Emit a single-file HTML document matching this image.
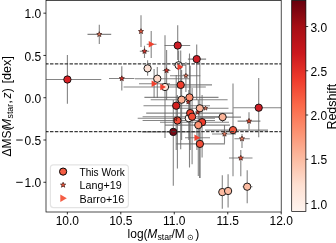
<!DOCTYPE html>
<html><head><meta charset="utf-8"><style>
html,body{margin:0;padding:0;background:#fff;width:336px;height:243px;overflow:hidden}
svg{display:block}
text{font-family:"Liberation Sans", sans-serif;fill:#000}
svg{will-change:transform}
</style></head><body>
<svg width="336" height="243" viewBox="0 0 336 243">
<defs>
<linearGradient id="reds" x1="0" y1="0" x2="0" y2="1">
<stop offset="0" stop-color="#67000d"/>
<stop offset="0.125" stop-color="#a50f15"/>
<stop offset="0.25" stop-color="#cb181d"/>
<stop offset="0.375" stop-color="#ef3b2c"/>
<stop offset="0.5" stop-color="#fb6a4a"/>
<stop offset="0.625" stop-color="#fc9272"/>
<stop offset="0.75" stop-color="#fcbba1"/>
<stop offset="0.875" stop-color="#fee0d2"/>
<stop offset="1" stop-color="#fff5f0"/>
</linearGradient>
<clipPath id="axclip"><rect x="46.0" y="0.4" width="235.2" height="211.6"/></clipPath>
</defs>
<rect width="336" height="243" fill="#fff"/>

<g clip-path="url(#axclip)">
<line x1="46.2" x2="101.3" y1="79.5" y2="79.5" stroke="#666" stroke-opacity="0.8" stroke-width="1.1"/><line x1="67.4" x2="67.4" y1="55" y2="103.8" stroke="#666" stroke-opacity="0.8" stroke-width="1.1"/>
<line x1="164.6" x2="190.2" y1="45.5" y2="45.5" stroke="#666" stroke-opacity="0.8" stroke-width="1.1"/><line x1="177.7" x2="177.7" y1="25.2" y2="60" stroke="#666" stroke-opacity="0.8" stroke-width="1.1"/>
<line x1="187.9" x2="206.1" y1="59.1" y2="59.1" stroke="#666" stroke-opacity="0.8" stroke-width="1.1"/><line x1="196.7" x2="196.7" y1="44.4" y2="100" stroke="#666" stroke-opacity="0.8" stroke-width="1.1"/>
<line x1="147.6" x2="147.6" y1="60.2" y2="75.8" stroke="#666" stroke-opacity="0.8" stroke-width="1.1"/>
<line x1="173.3" x2="186" y1="65.3" y2="65.3" stroke="#666" stroke-opacity="0.8" stroke-width="1.1"/><line x1="178.6" x2="178.6" y1="50.5" y2="82" stroke="#666" stroke-opacity="0.8" stroke-width="1.1"/>
<line x1="135" x2="190" y1="78.7" y2="78.7" stroke="#666" stroke-opacity="0.8" stroke-width="1.1"/><line x1="157.3" x2="157.3" y1="67" y2="98" stroke="#666" stroke-opacity="0.8" stroke-width="1.1"/>
<line x1="123.6" x2="205.8" y1="87.0" y2="87.0" stroke="#666" stroke-opacity="0.8" stroke-width="1.1"/><line x1="165.0" x2="165.0" y1="35.3" y2="138" stroke="#666" stroke-opacity="0.8" stroke-width="1.1"/>
<line x1="165" x2="212" y1="84.9" y2="84.9" stroke="#666" stroke-opacity="0.8" stroke-width="1.1"/><line x1="180.7" x2="180.7" y1="50.5" y2="149.3" stroke="#666" stroke-opacity="0.8" stroke-width="1.1"/>
<line x1="150.7" x2="227.6" y1="99.7" y2="99.7" stroke="#666" stroke-opacity="0.8" stroke-width="1.1"/><line x1="181.6" x2="181.6" y1="70" y2="140" stroke="#666" stroke-opacity="0.8" stroke-width="1.1"/>
<line x1="144.4" x2="218.5" y1="97.4" y2="97.4" stroke="#666" stroke-opacity="0.8" stroke-width="1.1"/><line x1="189.5" x2="189.5" y1="53.4" y2="167.4" stroke="#666" stroke-opacity="0.8" stroke-width="1.1"/>
<line x1="143.5" x2="210" y1="105.7" y2="105.7" stroke="#666" stroke-opacity="0.8" stroke-width="1.1"/><line x1="176.2" x2="176.2" y1="75" y2="150" stroke="#666" stroke-opacity="0.8" stroke-width="1.1"/>
<line x1="175" x2="228.5" y1="108.3" y2="108.3" stroke="#666" stroke-opacity="0.8" stroke-width="1.1"/><line x1="199.8" x2="199.8" y1="61.6" y2="178" stroke="#666" stroke-opacity="0.8" stroke-width="1.1"/>
<line x1="137.7" x2="215" y1="118.2" y2="118.2" stroke="#666" stroke-opacity="0.8" stroke-width="1.1"/><line x1="188.8" x2="188.8" y1="90" y2="140" stroke="#666" stroke-opacity="0.8" stroke-width="1.1"/>
<line x1="146.2" x2="233" y1="113.1" y2="113.1" stroke="#666" stroke-opacity="0.8" stroke-width="1.1"/><line x1="190.2" x2="190.2" y1="65.7" y2="150" stroke="#666" stroke-opacity="0.8" stroke-width="1.1"/>
<line x1="142.6" x2="225" y1="116.7" y2="116.7" stroke="#666" stroke-opacity="0.8" stroke-width="1.1"/><line x1="192.1" x2="192.1" y1="88" y2="164.3" stroke="#666" stroke-opacity="0.8" stroke-width="1.1"/>
<line x1="142.6" x2="215" y1="120.5" y2="120.5" stroke="#666" stroke-opacity="0.8" stroke-width="1.1"/><line x1="177.4" x2="177.4" y1="95" y2="168.4" stroke="#666" stroke-opacity="0.8" stroke-width="1.1"/>
<line x1="160" x2="229" y1="122.2" y2="122.2" stroke="#666" stroke-opacity="0.8" stroke-width="1.1"/><line x1="202.1" x2="202.1" y1="95" y2="157.5" stroke="#666" stroke-opacity="0.8" stroke-width="1.1"/>
<line x1="165" x2="230" y1="125.1" y2="125.1" stroke="#666" stroke-opacity="0.8" stroke-width="1.1"/><line x1="198.3" x2="198.3" y1="100" y2="176" stroke="#666" stroke-opacity="0.8" stroke-width="1.1"/>
<line x1="142" x2="200" y1="131.9" y2="131.9" stroke="#666" stroke-opacity="0.8" stroke-width="1.1"/><line x1="173.3" x2="173.3" y1="100" y2="185.7" stroke="#666" stroke-opacity="0.8" stroke-width="1.1"/>
<line x1="176.3" x2="225" y1="143.9" y2="143.9" stroke="#666" stroke-opacity="0.8" stroke-width="1.1"/><line x1="199.9" x2="199.9" y1="120" y2="178" stroke="#666" stroke-opacity="0.8" stroke-width="1.1"/>
<line x1="200" x2="241" y1="117.1" y2="117.1" stroke="#666" stroke-opacity="0.8" stroke-width="1.1"/><line x1="222.6" x2="222.6" y1="113" y2="122" stroke="#666" stroke-opacity="0.8" stroke-width="1.1"/>
<line x1="205" x2="268" y1="130.1" y2="130.1" stroke="#666" stroke-opacity="0.8" stroke-width="1.1"/><line x1="233.0" x2="233.0" y1="83.5" y2="176.2" stroke="#666" stroke-opacity="0.8" stroke-width="1.1"/>
<line x1="233.3" x2="281" y1="107.7" y2="107.7" stroke="#666" stroke-opacity="0.8" stroke-width="1.1"/><line x1="258.7" x2="258.7" y1="78.1" y2="137.2" stroke="#666" stroke-opacity="0.8" stroke-width="1.1"/>
<line x1="222.3" x2="222.3" y1="175.2" y2="208.8" stroke="#666" stroke-opacity="0.8" stroke-width="1.1"/>
<line x1="228.1" x2="228.1" y1="174.3" y2="207.5" stroke="#666" stroke-opacity="0.8" stroke-width="1.1"/>
<line x1="242.6" x2="252.5" y1="186.7" y2="186.7" stroke="#666" stroke-opacity="0.8" stroke-width="1.1"/><line x1="247.2" x2="247.2" y1="170.2" y2="203.3" stroke="#666" stroke-opacity="0.8" stroke-width="1.1"/>
<line x1="87.5" x2="111.2" y1="34.4" y2="34.4" stroke="#666" stroke-opacity="0.8" stroke-width="1.1"/><line x1="99.3" x2="99.3" y1="24.7" y2="44" stroke="#666" stroke-opacity="0.8" stroke-width="1.1"/>
<line x1="141.0" x2="141.0" y1="15.3" y2="47" stroke="#666" stroke-opacity="0.8" stroke-width="1.1"/>
<line x1="139.8" x2="149.2" y1="51.3" y2="51.3" stroke="#666" stroke-opacity="0.8" stroke-width="1.1"/><line x1="144.5" x2="144.5" y1="45.7" y2="58" stroke="#666" stroke-opacity="0.8" stroke-width="1.1"/>
<line x1="109" x2="134.4" y1="78.5" y2="78.5" stroke="#666" stroke-opacity="0.8" stroke-width="1.1"/><line x1="121.8" x2="121.8" y1="66.3" y2="90.4" stroke="#666" stroke-opacity="0.8" stroke-width="1.1"/>
<line x1="162.6" x2="170.4" y1="70.5" y2="70.5" stroke="#666" stroke-opacity="0.8" stroke-width="1.1"/><line x1="166.6" x2="166.6" y1="50" y2="100" stroke="#666" stroke-opacity="0.8" stroke-width="1.1"/>
<line x1="170" x2="200.3" y1="75.7" y2="75.7" stroke="#666" stroke-opacity="0.8" stroke-width="1.1"/><line x1="185.9" x2="185.9" y1="62" y2="92" stroke="#666" stroke-opacity="0.8" stroke-width="1.1"/>




<line x1="237.6" x2="260.4" y1="121.1" y2="121.1" stroke="#666" stroke-opacity="0.8" stroke-width="1.1"/><line x1="249.0" x2="249.0" y1="112.2" y2="129.4" stroke="#666" stroke-opacity="0.8" stroke-width="1.1"/>
<line x1="212" x2="236" y1="134.0" y2="134.0" stroke="#666" stroke-opacity="0.8" stroke-width="1.1"/><line x1="224.5" x2="224.5" y1="125" y2="143.6" stroke="#666" stroke-opacity="0.8" stroke-width="1.1"/>
<line x1="234.4" x2="249.8" y1="138.7" y2="138.7" stroke="#666" stroke-opacity="0.8" stroke-width="1.1"/><line x1="242.0" x2="242.0" y1="134" y2="148" stroke="#666" stroke-opacity="0.8" stroke-width="1.1"/>
<line x1="229" x2="252.5" y1="158.0" y2="158.0" stroke="#666" stroke-opacity="0.8" stroke-width="1.1"/><line x1="240.8" x2="240.8" y1="150" y2="176.2" stroke="#666" stroke-opacity="0.8" stroke-width="1.1"/>
<line x1="146.7" x2="156.5" y1="44.2" y2="44.2" stroke="#666" stroke-opacity="0.8" stroke-width="1.1"/><line x1="151.2" x2="151.2" y1="30.9" y2="58" stroke="#666" stroke-opacity="0.8" stroke-width="1.1"/>

<line x1="139" x2="170" y1="83.8" y2="83.8" stroke="#666" stroke-opacity="0.8" stroke-width="1.1"/><line x1="154.1" x2="154.1" y1="69" y2="98" stroke="#666" stroke-opacity="0.8" stroke-width="1.1"/>

<line x1="185" x2="210" y1="137.7" y2="137.7" stroke="#666" stroke-opacity="0.8" stroke-width="1.1"/><line x1="196.9" x2="196.9" y1="125" y2="150" stroke="#666" stroke-opacity="0.8" stroke-width="1.1"/>
<circle cx="67.4" cy="79.5" r="3.65" fill="#d92025" stroke="#111" stroke-width="0.95"/>
<circle cx="177.7" cy="45.5" r="3.65" fill="#cf1d26" stroke="#111" stroke-width="0.95"/>
<circle cx="196.7" cy="59.1" r="3.65" fill="#cf1d26" stroke="#111" stroke-width="0.95"/>
<circle cx="147.6" cy="68.4" r="3.65" fill="#fde2d6" stroke="#111" stroke-width="0.95"/>
<circle cx="178.6" cy="65.3" r="3.65" fill="#fff1ea" stroke="#111" stroke-width="0.95"/>
<circle cx="157.3" cy="78.7" r="3.65" fill="#fdd8c8" stroke="#111" stroke-width="0.95"/>
<circle cx="165.0" cy="87.0" r="3.65" fill="#fee5d9" stroke="#111" stroke-width="0.95"/>
<circle cx="180.7" cy="84.9" r="3.65" fill="#f03b2b" stroke="#111" stroke-width="0.95"/>
<circle cx="181.6" cy="99.7" r="3.65" fill="#fcb093" stroke="#111" stroke-width="0.95"/>
<circle cx="189.5" cy="97.4" r="3.65" fill="#fc8e6f" stroke="#111" stroke-width="0.95"/>
<circle cx="176.2" cy="105.7" r="3.65" fill="#d3201f" stroke="#111" stroke-width="0.95"/>
<circle cx="199.8" cy="108.3" r="3.65" fill="#fcb499" stroke="#111" stroke-width="0.95"/>
<circle cx="188.8" cy="118.2" r="3.65" fill="#fff4ef" stroke="#111" stroke-width="0.95"/>
<circle cx="190.2" cy="113.1" r="3.65" fill="#f0402d" stroke="#111" stroke-width="0.95"/>
<circle cx="192.1" cy="116.7" r="3.65" fill="#f24a33" stroke="#111" stroke-width="0.95"/>
<circle cx="177.4" cy="120.5" r="3.65" fill="#f24d37" stroke="#111" stroke-width="0.95"/>
<circle cx="202.1" cy="122.2" r="3.65" fill="#f03b2b" stroke="#111" stroke-width="0.95"/>
<circle cx="198.3" cy="125.1" r="3.65" fill="#fc9272" stroke="#111" stroke-width="0.95"/>
<circle cx="173.3" cy="131.9" r="3.65" fill="#780612" stroke="#111" stroke-width="0.95"/>
<circle cx="199.9" cy="143.9" r="3.65" fill="#f24d37" stroke="#111" stroke-width="0.95"/>
<circle cx="222.6" cy="117.1" r="3.65" fill="#fcb499" stroke="#111" stroke-width="0.95"/>
<circle cx="233.0" cy="130.1" r="3.65" fill="#f25a40" stroke="#111" stroke-width="0.95"/>
<circle cx="258.7" cy="107.7" r="3.65" fill="#cf1d26" stroke="#111" stroke-width="0.95"/>
<circle cx="222.3" cy="192.1" r="3.65" fill="#fcbba1" stroke="#111" stroke-width="0.95"/>
<circle cx="228.1" cy="191.0" r="3.65" fill="#fcbba1" stroke="#111" stroke-width="0.95"/>
<circle cx="247.2" cy="186.7" r="3.65" fill="#fcbba1" stroke="#111" stroke-width="0.95"/>
<path d="M99.30,31.71 L99.96,33.49 L101.86,33.57 L100.37,34.75 L100.88,36.57 L99.30,35.53 L97.72,36.57 L98.23,34.75 L96.74,33.57 L98.64,33.49Z" fill="#ec8062" stroke="#3a1510" stroke-width="0.7"/>
<path d="M141.00,28.71 L141.66,30.49 L143.56,30.57 L142.07,31.75 L142.58,33.57 L141.00,32.53 L139.42,33.57 L139.93,31.75 L138.44,30.57 L140.34,30.49Z" fill="#f25a40" stroke="#3a1510" stroke-width="0.7"/>
<path d="M144.50,48.61 L145.16,50.39 L147.06,50.47 L145.57,51.65 L146.08,53.47 L144.50,52.43 L142.92,53.47 L143.43,51.65 L141.94,50.47 L143.84,50.39Z" fill="#e0302a" stroke="#3a1510" stroke-width="0.7"/>
<path d="M121.80,75.81 L122.46,77.59 L124.36,77.67 L122.87,78.85 L123.38,80.67 L121.80,79.63 L120.22,80.67 L120.73,78.85 L119.24,77.67 L121.14,77.59Z" fill="#e0302a" stroke="#3a1510" stroke-width="0.7"/>
<path d="M166.60,67.81 L167.26,69.59 L169.16,69.67 L167.67,70.85 L168.18,72.67 L166.60,71.63 L165.02,72.67 L165.53,70.85 L164.04,69.67 L165.94,69.59Z" fill="#e0302a" stroke="#3a1510" stroke-width="0.7"/>
<path d="M185.90,73.35 L186.48,74.90 L188.14,74.97 L186.84,76.01 L187.28,77.60 L185.90,76.69 L184.52,77.60 L184.96,76.01 L183.66,74.97 L185.32,74.90Z" fill="#f4896a" stroke="#3a1510" stroke-width="0.7"/>
<path d="M188.10,99.92 L188.64,101.36 L190.18,101.43 L188.97,102.38 L189.38,103.87 L188.10,103.02 L186.82,103.87 L187.23,102.38 L186.02,101.43 L187.56,101.36Z" fill="#e0302a" stroke="#3a1510" stroke-width="0.7"/>
<path d="M197.70,110.32 L198.24,111.76 L199.78,111.83 L198.57,112.78 L198.98,114.27 L197.70,113.42 L196.42,114.27 L196.83,112.78 L195.62,111.83 L197.16,111.76Z" fill="#e0302a" stroke="#3a1510" stroke-width="0.7"/>
<path d="M205.60,106.12 L206.14,107.56 L207.68,107.63 L206.47,108.58 L206.88,110.07 L205.60,109.22 L204.32,110.07 L204.73,108.58 L203.52,107.63 L205.06,107.56Z" fill="#f4896a" stroke="#3a1510" stroke-width="0.7"/>
<path d="M175.50,116.98 L176.00,118.31 L177.42,118.38 L176.31,119.26 L176.68,120.63 L175.50,119.85 L174.32,120.63 L174.69,119.26 L173.58,118.38 L175.00,118.31Z" fill="#e0302a" stroke="#3a1510" stroke-width="0.7"/>
<path d="M249.00,118.41 L249.66,120.19 L251.56,120.27 L250.07,121.45 L250.58,123.27 L249.00,122.23 L247.42,123.27 L247.93,121.45 L246.44,120.27 L248.34,120.19Z" fill="#ec4a30" stroke="#3a1510" stroke-width="0.7"/>
<path d="M224.50,131.31 L225.16,133.09 L227.06,133.17 L225.57,134.35 L226.08,136.17 L224.50,135.13 L222.92,136.17 L223.43,134.35 L221.94,133.17 L223.84,133.09Z" fill="#f4896a" stroke="#3a1510" stroke-width="0.7"/>
<path d="M242.00,136.01 L242.66,137.79 L244.56,137.87 L243.07,139.05 L243.58,140.87 L242.00,139.83 L240.42,140.87 L240.93,139.05 L239.44,137.87 L241.34,137.79Z" fill="#f4896a" stroke="#3a1510" stroke-width="0.7"/>
<path d="M240.80,155.31 L241.46,157.09 L243.36,157.17 L241.87,158.35 L242.38,160.17 L240.80,159.13 L239.22,160.17 L239.73,158.35 L238.24,157.17 L240.14,157.09Z" fill="#f25a40" stroke="#3a1510" stroke-width="0.7"/>
<path d="M148.72,40.90 L154.50,44.20 L148.72,47.50Z" fill="#f0402e"/>
<path d="M177.53,63.60 L183.30,66.90 L177.53,70.20Z" fill="#ee3b2c"/>
<path d="M151.62,80.50 L157.40,83.80 L151.62,87.10Z" fill="#f0402e"/>
<path d="M160.22,83.70 L166.00,87.00 L160.22,90.30Z" fill="#f0402e"/>
<path d="M194.43,134.40 L200.20,137.70 L194.43,141.00Z" fill="#f0402e"/>
<line x1="46.0" x2="281.2" y1="63.90" y2="63.90" stroke="#3a3a3a" stroke-width="1.25" stroke-dasharray="3.45,1.4275" stroke-dashoffset="0.87"/>
<line x1="46.0" x2="281.2" y1="131.54" y2="131.54" stroke="#3a3a3a" stroke-width="1.25" stroke-dasharray="3.45,1.4275" stroke-dashoffset="0.87"/>
</g>
<rect x="50.4" y="164.8" width="78.0" height="42.8" rx="3" ry="3" fill="#fff" fill-opacity="0.8" stroke="#e4e4e4" stroke-width="1.2"/>
<circle cx="63.1" cy="171.6" r="3.6" fill="#f45d44" stroke="#000" stroke-width="1"/>
<path d="M63.10,182.25 L63.78,184.07 L65.72,184.15 L64.20,185.36 L64.72,187.22 L63.10,186.16 L61.48,187.22 L62.00,185.36 L60.48,184.15 L62.42,184.07Z" fill="#f25a40" stroke="#3a1510" stroke-width="0.7"/>
<path d="M60.33,194.60 L66.80,198.30 L60.33,202.00Z" fill="#f45d44"/>
<text x="79.6" y="175.7" font-size="10.8px" textLength="45.2" lengthAdjust="spacingAndGlyphs">This Work</text>
<text x="79.6" y="189.2" font-size="10.8px" textLength="42.0" lengthAdjust="spacingAndGlyphs">Lang+19</text>
<text x="79.6" y="202.6" font-size="10.8px" textLength="44.6" lengthAdjust="spacingAndGlyphs">Barro+16</text>
<rect x="46.0" y="0.4" width="235.2" height="211.6" fill="none" stroke="#000" stroke-width="0.7"/>
<line x1="67.35" x2="67.35" y1="212.0" y2="214.4" stroke="#000" stroke-width="0.8"/>
<text x="67.35" y="224.6" text-anchor="middle" font-size="12px">10.0</text>
<line x1="120.81" x2="120.81" y1="212.0" y2="214.4" stroke="#000" stroke-width="0.8"/>
<text x="120.81" y="224.6" text-anchor="middle" font-size="12px">10.5</text>
<line x1="174.28" x2="174.28" y1="212.0" y2="214.4" stroke="#000" stroke-width="0.8"/>
<text x="174.28" y="224.6" text-anchor="middle" font-size="12px">11.0</text>
<line x1="227.75" x2="227.75" y1="212.0" y2="214.4" stroke="#000" stroke-width="0.8"/>
<text x="227.75" y="224.6" text-anchor="middle" font-size="12px">11.5</text>
<line x1="281.21" x2="281.21" y1="212.0" y2="214.4" stroke="#000" stroke-width="0.8"/>
<text x="281.21" y="224.6" text-anchor="middle" font-size="12px">12.0</text>
<line x1="43.4" x2="46.0" y1="13.17" y2="13.17" stroke="#000" stroke-width="0.8"/>
<text x="41.2" y="18.27" text-anchor="end" font-size="12px">1.0</text>
<line x1="43.4" x2="46.0" y1="55.45" y2="55.45" stroke="#000" stroke-width="0.8"/>
<text x="41.2" y="60.55" text-anchor="end" font-size="12px">0.5</text>
<line x1="43.4" x2="46.0" y1="97.72" y2="97.72" stroke="#000" stroke-width="0.8"/>
<text x="41.2" y="102.82" text-anchor="end" font-size="12px">0.0</text>
<line x1="43.4" x2="46.0" y1="140.00" y2="140.00" stroke="#000" stroke-width="0.8"/>
<rect x="16.2" y="139.55" width="6.5" height="0.95" fill="#000"/>
<text x="41.2" y="145.09" text-anchor="end" font-size="12px">0.5</text>
<line x1="43.4" x2="46.0" y1="182.27" y2="182.27" stroke="#000" stroke-width="0.8"/>
<rect x="16.2" y="181.82" width="6.5" height="0.95" fill="#000"/>
<text x="41.2" y="187.37" text-anchor="end" font-size="12px">1.0</text>
<text x="127.6" y="237.6" font-size="12px">log(</text>
<text x="147.2" y="237.6" font-size="12px" font-style="italic">M</text>
<text x="157.4" y="240.29999999999998" font-size="8.7px">star</text>
<text x="171.4" y="237.6" font-size="12px">/M</text>
<text x="186.6" y="240.0" font-size="7.6px">⊙</text>
<text x="195.3" y="237.6" font-size="12px">)</text>
<text transform="translate(10.60,156.40) rotate(-90)" font-size="12px">ΔMS(</text>
<text transform="translate(10.60,128.90) rotate(-90)" font-size="12px" font-style="italic">M</text>
<text transform="translate(13.30,118.40) rotate(-90)" font-size="8.7px">star</text>
<text transform="translate(10.60,103.60) rotate(-90)" font-size="12px">,</text>
<text transform="translate(10.60,98.60) rotate(-90)" font-size="12px" font-style="italic">z</text>
<text transform="translate(10.60,92.20) rotate(-90)" font-size="12px">)</text>
<text transform="translate(10.60,83.40) rotate(-90)" font-size="12.6px">[dex]</text>
<rect x="291.7" y="0.4" width="14.199999999999989" height="211.2" fill="url(#reds)" stroke="#000" stroke-width="0.7"/>
<line x1="305.9" x2="308.2" y1="26.50" y2="26.50" stroke="#000" stroke-width="0.75"/>
<text x="310.4" y="31.60" font-size="12px">3.0</text>
<line x1="305.9" x2="308.2" y1="70.75" y2="70.75" stroke="#000" stroke-width="0.75"/>
<text x="310.4" y="75.85" font-size="12px">2.5</text>
<line x1="305.9" x2="308.2" y1="115.00" y2="115.00" stroke="#000" stroke-width="0.75"/>
<text x="310.4" y="120.10" font-size="12px">2.0</text>
<line x1="305.9" x2="308.2" y1="159.25" y2="159.25" stroke="#000" stroke-width="0.75"/>
<text x="310.4" y="164.35" font-size="12px">1.5</text>
<line x1="305.9" x2="308.2" y1="203.50" y2="203.50" stroke="#000" stroke-width="0.75"/>
<text x="310.4" y="208.60" font-size="12px">1.0</text>
<text transform="translate(336.4,106.7) rotate(-90)" text-anchor="middle" font-size="12.5px">Redshift</text>
</svg></body></html>
